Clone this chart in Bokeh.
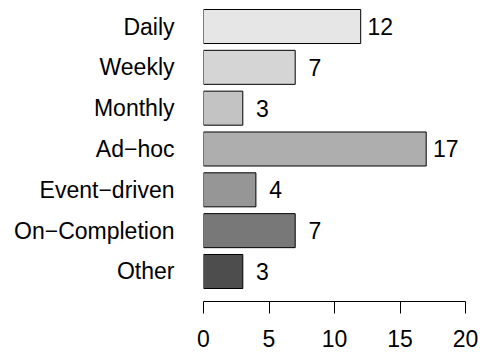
from bokeh.plotting import figure
from bokeh.models import Range1d, FixedTicker, ColumnDataSource
from bokeh.core.properties import value
from bokeh.embed import file_html
from bokeh.resources import INLINE

categories = ["Daily", "Weekly", "Monthly", "Ad\u2212hoc", "Event\u2212driven", "On\u2212Completion", "Other"]
counts = [12, 7, 3, 17, 4, 7, 3]
colors = ["#E6E6E6", "#D5D5D5", "#C3C3C3", "#AEAEAE", "#969696", "#787878", "#4D4D4D"]
x_ticks = [0, 5, 10, 15, 20]

n = len(categories)
ypos = [n - 1 - i for i in range(n)]
label_offset = 1.5
FONT = "Liberation Sans"
FS = "23px"

src = ColumnDataSource(dict(
    y=ypos, v=counts, c=colors,
    lx=[v + label_offset for v in counts],
    lt=[str(v) for v in counts],
))

p = figure(frame_width=262, frame_height=293, output_backend="svg", toolbar_location=None,
           x_range=Range1d(0, 20), y_range=Range1d(-0.735, 6.441),
           min_border_left=203, min_border_right=15, min_border_top=8, min_border_bottom=50)
p.outline_line_color = None
p.xgrid.visible = False
p.ygrid.visible = False
p.background_fill_color = "white"
p.border_fill_color = "white"

p.hbar(y="y", left=0, right="v", height=1 / 1.2, fill_color="c", line_color="black",
       line_width=1, source=src)
p.text(x="lx", y="y", text="lt", text_align="center", text_baseline="middle",
       text_font=value(FONT), text_font_size=FS, text_color="black", source=src)

xa = p.xaxis[0]
xa.ticker = FixedTicker(ticks=x_ticks)
xa.minor_tick_line_color = None
xa.major_tick_in = 0
xa.major_tick_out = 12
xa.major_label_standoff = 16
xa.axis_line_color = "black"
xa.major_tick_line_color = "black"
xa.major_label_text_font = FONT
xa.major_label_text_font_size = FS
xa.major_label_text_color = "black"

ya = p.yaxis[0]
ya.ticker = FixedTicker(ticks=ypos)
ya.major_label_overrides = {y: c for y, c in zip(ypos, categories)}
ya.axis_line_color = None
ya.major_tick_line_color = None
ya.minor_tick_line_color = None
ya.major_tick_in = 0
ya.major_tick_out = 0
ya.major_label_standoff = 29
ya.major_label_text_font = FONT
ya.major_label_text_font_size = FS
ya.major_label_text_color = "black"

open("out.html", "w").write(file_html(p, INLINE))
